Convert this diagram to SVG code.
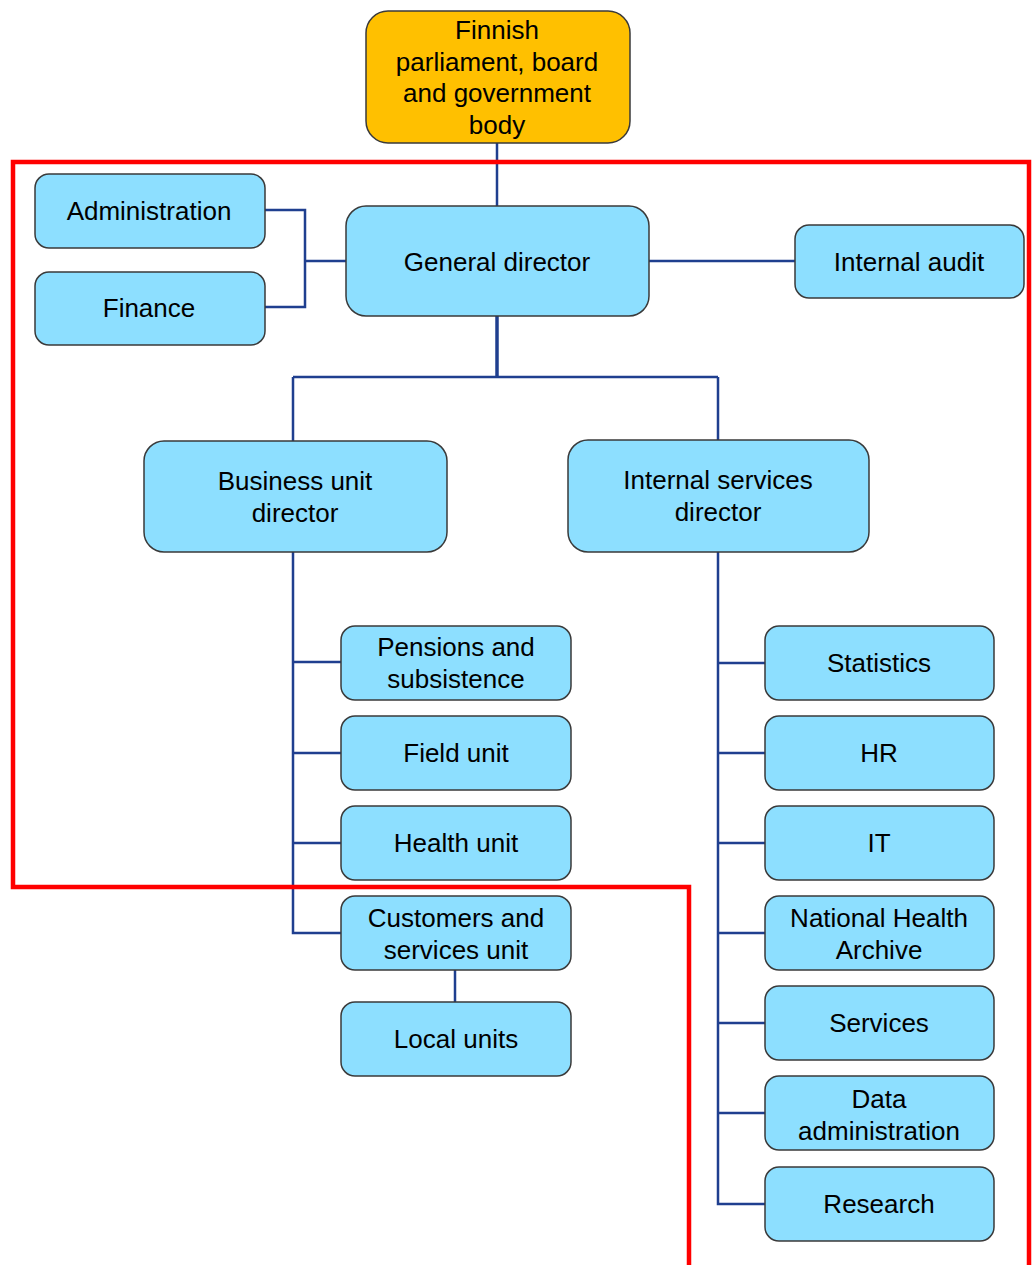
<svg xmlns="http://www.w3.org/2000/svg" width="1032" height="1265" viewBox="0 0 1032 1265">
  <style>
    .box { fill: #8ddfff; stroke: #3a3a3a; stroke-width: 1.5; }
    .top { fill: #ffc000; stroke: #3a3a3a; stroke-width: 1.5; }
    .lbl { font-family: "Liberation Sans", Arial, sans-serif; font-size: 26px; fill: #000; text-anchor: middle; }
    .conn { fill: none; stroke: #1f3f8f; stroke-width: 2.5; }
    .trunk { stroke-width: 3.5; }
    .frame { fill: none; stroke: #ff0000; stroke-width: 4.5; }
  </style>
  <rect width="1032" height="1265" fill="#ffffff"/>

  <!-- connectors -->
  <g id="connectors" class="conn">
    <path d="M497,143 V206"/>
    <path d="M265,210 H305 V307 H265 M305,261 H346"/>
    <path d="M649,261 H795"/>
    <path class="trunk" d="M497,316 V377"/>
    <path d="M293,377 H718 M293,377 V441 M718,377 V440"/>
    <path d="M293,552 V933 H341 M293,662 H341 M293,753 H341 M293,843 H341"/>
    <path d="M455,970 V1002"/>
    <path d="M718,552 V1204 H765 M718,663 H765 M718,753 H765 M718,843 H765 M718,933 H765 M718,1023 H765 M718,1113 H765"/>
  </g>

  <!-- red outline -->
  <path class="frame" d="M1029,1265 V162 H13 V887 H689 V1265"/>

  <g id="parliament">
    <rect class="top" x="366" y="11" width="264" height="132" rx="22"/>
    <text class="lbl" x="497" y="39">Finnish</text>
    <text class="lbl" x="497" y="71">parliament, board</text>
    <text class="lbl" x="497" y="102">and government</text>
    <text class="lbl" x="497" y="134">body</text>
  </g>
  <g id="administration">
    <rect class="box" x="35" y="174" width="230" height="74" rx="14"/>
    <text class="lbl" x="149" y="220">Administration</text>
  </g>
  <g id="finance">
    <rect class="box" x="35" y="272" width="230" height="73" rx="14"/>
    <text class="lbl" x="149" y="317">Finance</text>
  </g>
  <g id="general-director">
    <rect class="box" x="346" y="206" width="303" height="110" rx="20"/>
    <text class="lbl" x="497" y="271">General director</text>
  </g>
  <g id="internal-audit">
    <rect class="box" x="795" y="225" width="229" height="73" rx="14"/>
    <text class="lbl" x="909" y="271">Internal audit</text>
  </g>
  <g id="business-unit-director">
    <rect class="box" x="144" y="441" width="303" height="111" rx="20"/>
    <text class="lbl" x="295" y="490">Business unit</text>
    <text class="lbl" x="295" y="522">director</text>
  </g>
  <g id="internal-services-director">
    <rect class="box" x="568" y="440" width="301" height="112" rx="20"/>
    <text class="lbl" x="718" y="489">Internal services</text>
    <text class="lbl" x="718" y="521">director</text>
  </g>

  <g id="pensions">
    <rect class="box" x="341" y="626" width="230" height="74" rx="14"/>
    <text class="lbl" x="456" y="656">Pensions and</text>
    <text class="lbl" x="456" y="688">subsistence</text>
  </g>
  <g id="field-unit">
    <rect class="box" x="341" y="716" width="230" height="74" rx="14"/>
    <text class="lbl" x="456" y="762">Field unit</text>
  </g>
  <g id="health-unit">
    <rect class="box" x="341" y="806" width="230" height="74" rx="14"/>
    <text class="lbl" x="456" y="852">Health unit</text>
  </g>
  <g id="customers">
    <rect class="box" x="341" y="896" width="230" height="74" rx="14"/>
    <text class="lbl" x="456" y="927">Customers and</text>
    <text class="lbl" x="456" y="959">services unit</text>
  </g>
  <g id="local-units">
    <rect class="box" x="341" y="1002" width="230" height="74" rx="14"/>
    <text class="lbl" x="456" y="1048">Local units</text>
  </g>

  <g id="statistics">
    <rect class="box" x="765" y="626" width="229" height="74" rx="14"/>
    <text class="lbl" x="879" y="672">Statistics</text>
  </g>
  <g id="hr">
    <rect class="box" x="765" y="716" width="229" height="74" rx="14"/>
    <text class="lbl" x="879" y="762">HR</text>
  </g>
  <g id="it">
    <rect class="box" x="765" y="806" width="229" height="74" rx="14"/>
    <text class="lbl" x="879" y="852">IT</text>
  </g>
  <g id="health-archive">
    <rect class="box" x="765" y="896" width="229" height="74" rx="14"/>
    <text class="lbl" x="879" y="927">National Health</text>
    <text class="lbl" x="879" y="959">Archive</text>
  </g>
  <g id="services">
    <rect class="box" x="765" y="986" width="229" height="74" rx="14"/>
    <text class="lbl" x="879" y="1032">Services</text>
  </g>
  <g id="data-administration">
    <rect class="box" x="765" y="1076" width="229" height="74" rx="14"/>
    <text class="lbl" x="879" y="1108">Data</text>
    <text class="lbl" x="879" y="1140">administration</text>
  </g>
  <g id="research">
    <rect class="box" x="765" y="1167" width="229" height="74" rx="14"/>
    <text class="lbl" x="879" y="1213">Research</text>
  </g>
</svg>
